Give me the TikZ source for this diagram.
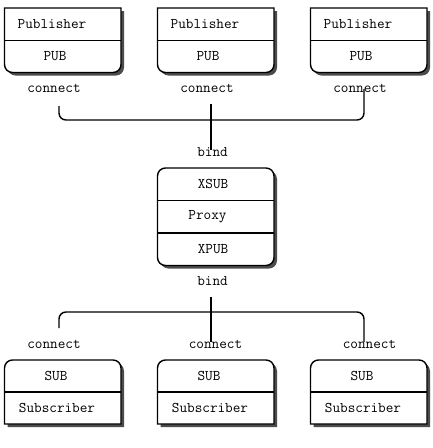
\documentclass[tikz,border=0pt]{standalone}
\usepackage{fontspec}
\usetikzlibrary{shadows}

\begin{document}
\begin{tikzpicture}[x=1pt,y=1pt,
  box/.style={draw,fill=white,line width=1.4pt,drop shadow={shadow xshift=3pt,shadow yshift=-3pt,fill=black!70,opacity=1}},
  sep/.style={draw,line width=1.4pt},
  bus/.style={draw,line width=1.4pt,rounded corners=7pt},
  every node/.style={font=\fontsize{14.8}{17}\selectfont\ttfamily}]
\useasboundingbox (0,0) rectangle (432,-448);

% publishers
\path[box] (4.5,-8) -- ++(116.5,0) -- ++(0,-56.5) arc[start angle=0,end angle=-90,radius=8] -- ++(-100.5,0) arc[start angle=270,end angle=180,radius=8] -- cycle;
\path[box] (157.5,-8) -- ++(116.5,0) -- ++(0,-56.5) arc[start angle=0,end angle=-90,radius=8] -- ++(-100.5,0) arc[start angle=270,end angle=180,radius=8] -- cycle;
\path[box] (310.5,-8) -- ++(116.5,0) -- ++(0,-56.5) arc[start angle=0,end angle=-90,radius=8] -- ++(-100.5,0) arc[start angle=270,end angle=180,radius=8] -- cycle;
\path[sep] (4.5,-40.5) -- ++(116.5,0);
\path[sep] (157.5,-40.5) -- ++(116.5,0);
\path[sep] (310.5,-40.5) -- ++(116.5,0);

\node (pubname1) at (52,-24) {Publisher};
\node (pubname2) at (205,-24) {Publisher};
\node (pubname3) at (358,-24) {Publisher};
\node (pubsock1) at (55,-56.5) {PUB};
\node (pubsock2) at (208,-56.5) {PUB};
\node (pubsock3) at (361,-56.5) {PUB};
\node (conpub1) at (54,-88) {connect};
\node (conpub2) at (207,-88) {connect};
\node (conpub3) at (360,-88) {connect};

% proxy
\path[box,rounded corners=8pt] (157.5,-168) rectangle (274,-265.5);
\path[sep] (157.5,-200.5) -- (274,-200.5);
\path[sep] (157.5,-233) -- (274,-233);

\node (bindxsub) at (212.5,-152) {bind};
\node (xsub) at (213,-184) {XSUB};
\node (proxy) at (207.5,-216.5) {Proxy};
\node (xpub) at (213,-249) {XPUB};
\node (bindxpub) at (212.5,-281) {bind};

% subscribers
\path[box] (4.5,-424) -- ++(0,56) arc[start angle=180,end angle=90,radius=8] -- ++(100.5,0) arc[start angle=90,end angle=0,radius=8] -- ++(0,-56) -- cycle;
\path[box] (157.5,-424) -- ++(0,56) arc[start angle=180,end angle=90,radius=8] -- ++(100.5,0) arc[start angle=90,end angle=0,radius=8] -- ++(0,-56) -- cycle;
\path[box] (310.5,-424) -- ++(0,56) arc[start angle=180,end angle=90,radius=8] -- ++(100.5,0) arc[start angle=90,end angle=0,radius=8] -- ++(0,-56) -- cycle;
\path[sep] (4.5,-392) -- ++(116.5,0);
\path[sep] (157.5,-392) -- ++(116.5,0);
\path[sep] (310.5,-392) -- ++(116.5,0);

\node (consub1) at (54,-344) {connect};
\node (consub2) at (215.5,-344) {connect};
\node (consub3) at (369.5,-344) {connect};
\node (subsock1) at (56,-376) {SUB};
\node (subsock2) at (209,-376) {SUB};
\node (subsock3) at (362,-376) {SUB};
\node (subname1) at (57,-408) {Subscriber};
\node (subname2) at (210,-408) {Subscriber};
\node (subname3) at (363,-408) {Subscriber};

% wires
\coordinate (pubtap1) at (59,-106);
\coordinate (pubtap2) at (211,-104);
\coordinate (pubtap3) at (364,-89);
\coordinate (pubbus) at (211,-120);
\coordinate (subtap1) at (59,-328);
\coordinate (subtap2) at (211,-342);
\coordinate (subtap3) at (364,-342);
\coordinate (subbus) at (211,-312);

\path[bus] (pubtap1) |- (pubbus) -| (pubtap3);
\path[bus] (pubtap2) -- ([yshift=2pt]pubtap2 |- bindxsub.center);
\path[bus] (subtap1) |- (subbus) -| (subtap3);
\path[bus] ([yshift=-16pt]subtap2 |- bindxpub.center) -- (subtap2);
\end{tikzpicture}
\end{document}
